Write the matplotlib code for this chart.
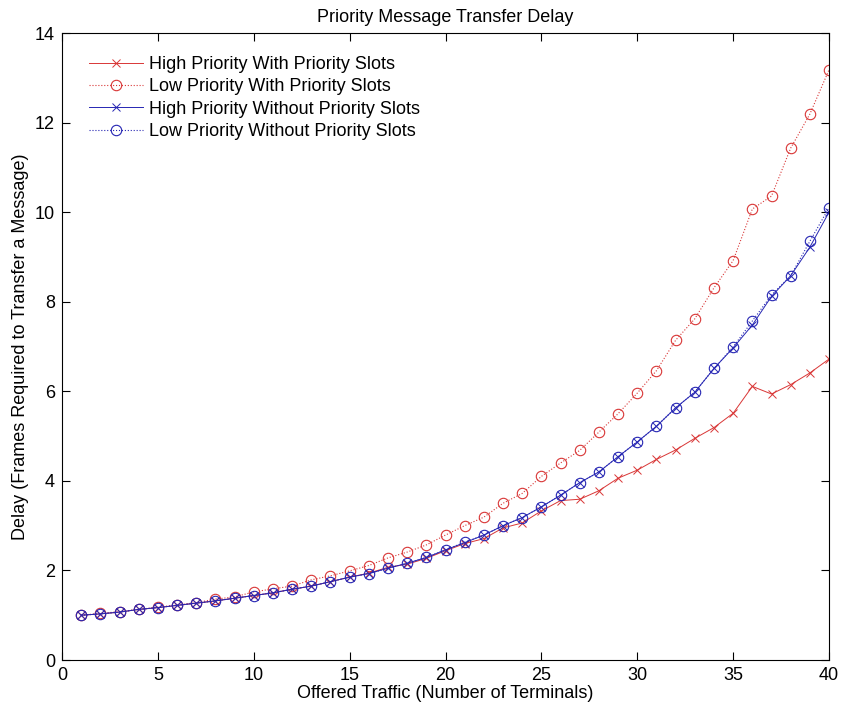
import matplotlib
matplotlib.use("Agg")
import matplotlib.pyplot as plt
import numpy as np

plt.rcParams['font.family'] = ['Liberation Sans', 'DejaVu Sans']

# Offered traffic (number of terminals)
terminals = np.arange(1, 41)

# Delay in frames, one list per case
high_with = [1.00, 1.03, 1.07, 1.13, 1.17, 1.22, 1.27, 1.32, 1.38, 1.44,
             1.50, 1.58, 1.65, 1.75, 1.85, 1.94, 2.07, 2.14, 2.27, 2.44,
             2.60, 2.71, 2.95, 3.06, 3.33, 3.56, 3.59, 3.78, 4.06, 4.24,
             4.48, 4.69, 4.95, 5.19, 5.51, 6.11, 5.94, 6.15, 6.41, 6.72]
low_with = [1.00, 1.04, 1.08, 1.13, 1.18, 1.23, 1.28, 1.36, 1.41, 1.52,
            1.59, 1.65, 1.79, 1.88, 1.99, 2.11, 2.28, 2.41, 2.57, 2.79,
            3.00, 3.19, 3.50, 3.72, 4.10, 4.40, 4.68, 5.09, 5.50, 5.96,
            6.46, 7.14, 7.62, 8.31, 8.92, 10.07, 10.36, 11.43, 12.19, 13.18]
high_without = [1.00, 1.03, 1.07, 1.13, 1.17, 1.22, 1.27, 1.32, 1.38, 1.44,
                1.50, 1.58, 1.65, 1.75, 1.85, 1.93, 2.05, 2.16, 2.29, 2.46,
                2.62, 2.79, 3.00, 3.18, 3.42, 3.68, 3.96, 4.20, 4.54, 4.87,
                5.22, 5.63, 5.98, 6.51, 6.97, 7.48, 8.12, 8.58, 9.22, 10.00]
low_without = [1.00, 1.03, 1.07, 1.13, 1.17, 1.22, 1.27, 1.32, 1.38, 1.44,
               1.50, 1.58, 1.65, 1.75, 1.85, 1.93, 2.05, 2.16, 2.29, 2.46,
               2.63, 2.79, 3.00, 3.18, 3.42, 3.68, 3.96, 4.20, 4.54, 4.87,
               5.22, 5.63, 5.98, 6.51, 6.99, 7.57, 8.15, 8.58, 9.35, 10.10]

red = '#d93636'
blue = '#2626b3'

fig = plt.figure(figsize=(8.42, 7.15), dpi=100)
ax = fig.add_axes([0.0736, 0.0769, 0.9110, 0.8769])

ax.plot(terminals, high_with, '-', color=red, marker='x', ms=6, mew=0.7, lw=0.7,
        label='High Priority With Priority Slots')
ax.plot(terminals, low_with, ':', color=red, marker='o', ms=7.5, mew=0.8, lw=0.8,
        mfc='none', label='Low Priority With Priority Slots')
ax.plot(terminals, high_without, '-', color=blue, marker='x', ms=6, mew=0.7, lw=0.7,
        label='High Priority Without Priority Slots')
ax.plot(terminals, low_without, ':', color=blue, marker='o', ms=7.5, mew=0.8, lw=0.8,
        mfc='none', label='Low Priority Without Priority Slots')

ax.set_xlim(0, 40)
ax.set_ylim(0, 14)
ax.set_xticks(np.arange(0, 41, 5))
ax.set_yticks(np.arange(0, 15, 2))
ax.tick_params(direction='in', top=True, right=True, length=6, width=0.8,
               labelsize=13, pad=5)
for s in ax.spines.values():
    s.set_linewidth(0.8)

ax.set_title('Priority Message Transfer Delay', fontsize=13, pad=8)
ax.set_xlabel('Offered Traffic (Number of Terminals)', fontsize=13, labelpad=1)
ax.set_ylabel('Delay (Frames Required to Transfer a Message)', fontsize=13, labelpad=4)

ax.legend(loc='upper left', frameon=False, fontsize=13, handlelength=3.0,
          handletextpad=0.3, labelspacing=0.3, borderaxespad=0.0,
          bbox_to_anchor=(0.026, 0.975))

fig.savefig('out.png', dpi=100)
